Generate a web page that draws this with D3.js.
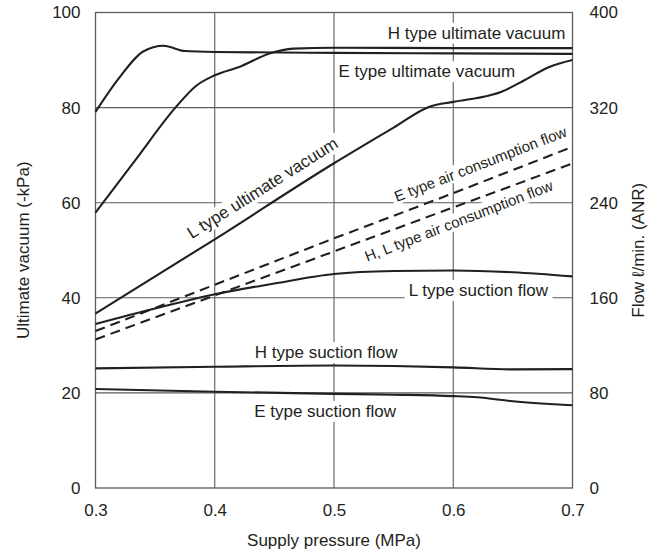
<!DOCTYPE html>
<html>
<head>
<meta charset="utf-8">
<script src="https://cdn.jsdelivr.net/npm/d3@7"></script>
<style>
  html, body { margin: 0; padding: 0; background: #fff; }
  svg { display: block; font-family: "Liberation Sans", Arial, Helvetica, sans-serif; }
</style>
</head>
<body>
<svg id="chart" width="666" height="556"></svg>
<script>
// Axis ticks
const pressureTicks = [0.3, 0.4, 0.5, 0.6, 0.7];
const vacuumTicks = [0, 20, 40, 60, 80, 100];
const flowTicks = [0, 80, 160, 240, 320, 400];

// Ultimate vacuum (-kPa) vs supply pressure (MPa)
const hUltimateVacuum = [[0.30, 79.1], [0.32, 86.3], [0.34, 91.8], [0.357, 93.0], [0.375, 91.9],
  [0.40, 91.7], [0.50, 91.5], [0.60, 91.4], [0.70, 91.3]];
const eUltimateVacuum = [[0.30, 57.9], [0.335, 69.5], [0.367, 80.0], [0.385, 84.7], [0.40, 86.8],
  [0.421, 88.6], [0.446, 91.4], [0.466, 92.4], [0.50, 92.6], [0.60, 92.5], [0.70, 92.5]];
const lUltimateVacuum = [[0.30, 36.7], [0.40, 52.3], [0.50, 68.3], [0.55, 75.8], [0.58, 80.2],
  [0.60, 81.2], [0.62, 82.0], [0.64, 83.3], [0.66, 85.8], [0.68, 88.5], [0.70, 90.0]];

// Flow (l/min ANR) vs supply pressure (MPa)
const eAirConsumption = [[0.30, 132], [0.40, 171], [0.50, 210], [0.60, 248], [0.70, 287]];
const hlAirConsumption = [[0.30, 125], [0.40, 162], [0.50, 199], [0.60, 236], [0.70, 273]];
const lSuctionFlow = [[0.30, 138], [0.35, 151], [0.40, 163], [0.45, 172], [0.50, 180],
  [0.55, 182.5], [0.60, 183], [0.65, 181.5], [0.70, 178]];
const hSuctionFlow = [[0.30, 100.6], [0.40, 102], [0.50, 103], [0.55, 102.6], [0.60, 101.5],
  [0.65, 99.8], [0.70, 100]];
const eSuctionFlow = [[0.30, 83.3], [0.40, 81], [0.50, 79.2], [0.55, 78.5], [0.60, 77.3],
  [0.62, 76.3], [0.65, 73.0], [0.70, 69.6]];

const ink = "#231f20";
const gridColor = "#5b5b5b";

const svg = d3.select("#chart");
const plot = { left: 95.5, right: 572.5, top: 12.5, bottom: 488 };

const x = d3.scaleLinear().domain([0.3, 0.7]).range([plot.left, plot.right]);
const yVac = d3.scaleLinear().domain([0, 100]).range([plot.bottom, plot.top]);
const yFlow = d3.scaleLinear().domain([0, 400]).range([plot.bottom, plot.top]);

// Grid
const grid = svg.append("g").attr("stroke", gridColor).attr("stroke-width", 1.1);
grid.selectAll("line.v").data(pressureTicks.slice(1, -1)).join("line")
  .attr("x1", d => x(d)).attr("x2", d => x(d))
  .attr("y1", plot.top).attr("y2", plot.bottom);
grid.selectAll("line.h").data(vacuumTicks.slice(1, -1)).join("line")
  .attr("x1", plot.left).attr("x2", plot.right)
  .attr("y1", d => yVac(d)).attr("y2", d => yVac(d));

// Axes (labels only, frame drawn separately)
const tickFont = 17;
const xAxis = d3.axisBottom(x).tickValues(pressureTicks).tickFormat(d3.format(".1f")).tickSize(0).tickPadding(16);
const yAxisL = d3.axisLeft(yVac).tickValues(vacuumTicks).tickFormat(d3.format("d")).tickSize(0).tickPadding(15);
const yAxisR = d3.axisRight(yFlow).tickValues(flowTicks).tickFormat(d3.format("d")).tickSize(0).tickPadding(17);

function styleAxis(g) {
  g.select(".domain").remove();
  g.selectAll("text").attr("fill", ink).style("font-size", tickFont + "px")
    .style("font-family", "'Liberation Sans', Arial, Helvetica, sans-serif");
}
svg.append("g").attr("transform", `translate(0,${plot.bottom})`).call(xAxis).call(styleAxis);
svg.append("g").attr("transform", `translate(${plot.left},0)`).call(yAxisL).call(styleAxis);
svg.append("g").attr("transform", `translate(${plot.right},0)`).call(yAxisR).call(styleAxis);

// Frame
svg.append("rect")
  .attr("x", plot.left).attr("y", plot.top)
  .attr("width", plot.right - plot.left).attr("height", plot.bottom - plot.top)
  .attr("fill", "none").attr("stroke", gridColor).attr("stroke-width", 1.3);

// Axis titles
svg.append("text")
  .attr("transform", `translate(${(plot.left + plot.right) / 2},546)`)
  .attr("text-anchor", "middle").attr("fill", ink).style("font-size", "17px")
  .text("Supply pressure (MPa)");
svg.append("text")
  .attr("transform", `translate(29,${(plot.top + plot.bottom) / 2}) rotate(-90)`)
  .attr("text-anchor", "middle").attr("fill", ink).style("font-size", "17px")
  .text("Ultimate vacuum (-kPa)");
svg.append("text")
  .attr("transform", `translate(644,${(plot.top + plot.bottom) / 2}) rotate(-90)`)
  .attr("text-anchor", "middle").attr("fill", ink).style("font-size", "17px")
  .text("Flow ℓ/min. (ANR)");

// Curves
const lineVac = d3.line().x(d => x(d[0])).y(d => yVac(d[1])).curve(d3.curveMonotoneX);
const lineFlow = d3.line().x(d => x(d[0])).y(d => yFlow(d[1])).curve(d3.curveMonotoneX);
const lineFlowStraight = d3.line().x(d => x(d[0])).y(d => yFlow(d[1]));

const curves = svg.append("g").attr("fill", "none").attr("stroke", ink).attr("stroke-width", 2.1)
  .attr("stroke-linejoin", "round");
[hUltimateVacuum, eUltimateVacuum, lUltimateVacuum].forEach(s =>
  curves.append("path").attr("d", lineVac(s)));
[lSuctionFlow, hSuctionFlow, eSuctionFlow].forEach(s =>
  curves.append("path").attr("d", lineFlow(s)));
[eAirConsumption, hlAirConsumption].forEach(s =>
  curves.append("path").attr("d", lineFlowStraight(s)).attr("stroke-dasharray", "10,6"));

// Linear interpolation along a series, used to place labels beside curves
function valueAt(series, p) {
  for (let i = 1; i < series.length; i++) {
    const [p0, v0] = series[i - 1], [p1, v1] = series[i];
    if (p <= p1) return v0 + (v1 - v0) * (p - p0) / (p1 - p0);
  }
  return series[series.length - 1][1];
}
function slopeAngle(series, yScale) {
  const a = series[0], b = series[series.length - 1];
  return Math.atan2(yScale(b[1]) - yScale(a[1]), x(b[0]) - x(a[0])) * 180 / Math.PI;
}

// Curve labels on a white backing
function label(px, py, text, opts) {
  const g = svg.append("g").attr("transform", `translate(${px},${py}) rotate(${opts.angle || 0})`);
  const t = g.append("text").attr("text-anchor", opts.anchor || "middle")
    .attr("fill", ink).style("font-size", (opts.size || 17) + "px").text(text);
  const bb = t.node().getBBox();
  const padX = opts.padX == null ? 3 : opts.padX, padY = opts.padY == null ? 1 : opts.padY;
  g.insert("rect", "text")
    .attr("x", bb.x - padX).attr("y", bb.y - padY)
    .attr("width", bb.width + 2 * padX).attr("height", bb.height + 2 * padY)
    .attr("fill", "#fff");
}

label(x(0.694), yVac(94.5), "H type ultimate vacuum", { anchor: "end" });
label(x(0.5038), yVac(86.4), "E type ultimate vacuum", { anchor: "start" });

const lAng = slopeAngle(lUltimateVacuum.slice(0, 3), yVac);
label(x(0.4426), yVac(valueAt(lUltimateVacuum, 0.4426)) - 14, "L type ultimate vacuum", { angle: lAng, padY: 0 });

const airAng = slopeAngle(eAirConsumption, yFlow);
label(x(0.6243), yFlow(valueAt(eAirConsumption, 0.6243)) - 13, "E type air consumption flow",
  { angle: airAng, size: 15, padY: 0 });
label(x(0.6062), yFlow(valueAt(hlAirConsumption, 0.6062)) + 21, "H, L type air consumption flow",
  { angle: airAng, size: 15, padY: 0 });

label(x(0.621), yFlow(161.5), "L type suction flow", { padX: 4 });
label(x(0.4934), yFlow(109.3), "H type suction flow", {});
label(x(0.4925), yFlow(59.7), "E type suction flow", {});
</script>
</body>
</html>
